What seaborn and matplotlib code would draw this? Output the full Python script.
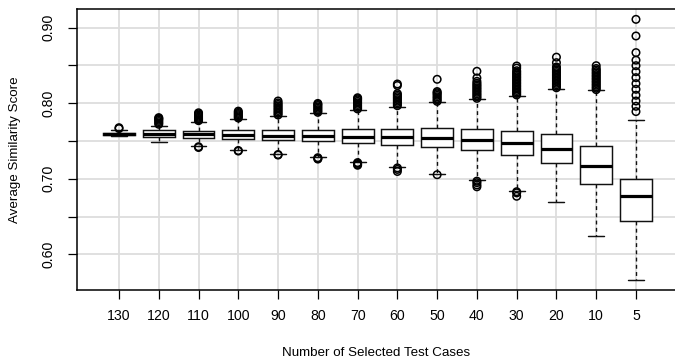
import numpy as np
import pandas as pd
import matplotlib
matplotlib.use("Agg")
import matplotlib.pyplot as plt
from matplotlib.markers import MarkerStyle
import seaborn as sns

# ---- data ----
labels = ["130", "120", "110", "100", "90", "80", "70", "60", "50", "40", "30", "20", "10", "5"]
whisker_low = [0.7565, 0.7492, 0.7435, 0.7385, 0.7330, 0.7290, 0.7224, 0.7157, 0.7065, 0.6985, 0.6844, 0.6694, 0.6245, 0.5667]
q1 = [0.7578, 0.7558, 0.7545, 0.7528, 0.7510, 0.7497, 0.7475, 0.7452, 0.7418, 0.7382, 0.7316, 0.7206, 0.6937, 0.6443]
median = [0.7592, 0.7594, 0.7590, 0.7585, 0.7570, 0.7570, 0.7558, 0.7550, 0.7540, 0.7515, 0.7475, 0.7395, 0.7170, 0.6774]
q3 = [0.7605, 0.7640, 0.7638, 0.7643, 0.7647, 0.7647, 0.7656, 0.7660, 0.7670, 0.7660, 0.7638, 0.7600, 0.7435, 0.7000]
whisker_high = [0.7645, 0.7700, 0.7757, 0.7790, 0.7830, 0.7868, 0.7911, 0.7955, 0.8013, 0.8057, 0.8100, 0.8195, 0.8170, 0.7780]

outliers_high = {
    "130": [0.7665, 0.7677],
    "120": [0.7722, 0.7740, 0.7758, 0.7775, 0.7790, 0.7800, 0.7810],
    "110": [0.7770, 0.7785, 0.7800, 0.7815, 0.7830, 0.7845, 0.7860, 0.7874],
    "100": [0.7805, 0.7820, 0.7835, 0.7850, 0.7865, 0.7880, 0.7896],
    "90": [0.7845, 0.7865, 0.7885, 0.7905, 0.7925, 0.7945, 0.7965, 0.7985, 0.8005, 0.8030],
    "80": [0.7880, 0.7898, 0.7916, 0.7934, 0.7952, 0.7970, 0.7985, 0.7998],
    "70": [0.7925, 0.7945, 0.7965, 0.7985, 0.8005, 0.8025, 0.8045, 0.8060, 0.8073],
    "60": [0.7968, 0.7988, 0.8008, 0.8028, 0.8048, 0.8068, 0.8088, 0.8108, 0.8128, 0.8235, 0.8255],
    "50": [0.8025, 0.8045, 0.8065, 0.8085, 0.8105, 0.8125, 0.8140, 0.8155, 0.8317],
    "40": [0.8065, 0.8085, 0.8105, 0.8125, 0.8145, 0.8165, 0.8185, 0.8205, 0.8225, 0.8245, 0.8265, 0.8290, 0.8335, 0.8423],
    "30": [0.8110, 0.8130, 0.8150, 0.8170, 0.8190, 0.8210, 0.8230, 0.8250, 0.8270, 0.8290, 0.8310, 0.8330, 0.8350, 0.8370, 0.8390, 0.8410, 0.8430, 0.8465, 0.8493],
    "20": [0.8205, 0.8225, 0.8245, 0.8265, 0.8285, 0.8305, 0.8325, 0.8345, 0.8365, 0.8385, 0.8405, 0.8425, 0.8445, 0.8465, 0.8480, 0.8537, 0.8610],
    "10": [0.8180, 0.8200, 0.8220, 0.8240, 0.8260, 0.8280, 0.8300, 0.8320, 0.8340, 0.8360, 0.8380, 0.8400, 0.8420, 0.8440, 0.8460, 0.8497],
    "5": [0.7890, 0.7960, 0.8030, 0.8106, 0.8185, 0.8260, 0.8339, 0.8418, 0.8497, 0.8570, 0.8670, 0.8890, 0.9110],
}
outliers_low = {
    "110": [0.7425, 0.7415],
    "100": [0.7375, 0.7368],
    "90": [0.7322, 0.7315],
    "80": [0.7280, 0.7270, 0.7262],
    "70": [0.7215, 0.7205, 0.7190, 0.7180],
    "60": [0.7145, 0.7125, 0.7098],
    "50": [0.7055],
    "40": [0.6970, 0.6950, 0.6920, 0.6895],
    "30": [0.6830, 0.6815, 0.6770],
}

y_ticks = [0.60, 0.65, 0.70, 0.75, 0.80, 0.85, 0.90]
y_ticklabels = ["0.60", "", "0.70", "", "0.80", "", "0.90"]

# ---- build tables ----
box_rows = []
for lab, lo, a, m, b, hi in zip(labels, whisker_low, q1, median, q3, whisker_high):
    for v in (lo, a, m, b, hi):
        box_rows.append((lab, v))
box_df = pd.DataFrame(box_rows, columns=["n", "score"])

out_rows = []
for d in (outliers_high, outliers_low):
    for lab, vals in d.items():
        for v in vals:
            out_rows.append((lab, v))
out_df = pd.DataFrame(out_rows, columns=["n", "score"])

# ---- plot ----
sns.set_style("white")
plt.rcParams["font.family"] = ["Liberation Sans", "DejaVu Sans"]

W, H = 675, 364
fig = plt.figure(figsize=(W / 100, H / 100), dpi=100)
L, R, T, B = 77, 700, 9, 290
ax = fig.add_axes([L / W, 1 - B / H, (R - L) / W, (B - T) / H])

sns.boxplot(
    data=box_df, x="n", y="score", order=labels,
    whis=(0, 100), width=0.8, showfliers=False,
    color="white", linecolor="#111111", linewidth=1.05,
    medianprops=dict(linewidth=2.3, color="black"),
    whiskerprops=dict(linestyle=(0, (2.8, 2.4)), linewidth=1.0),
    capprops=dict(linewidth=1.05),
    ax=ax, zorder=3,
)

sns.stripplot(
    data=out_df, x="n", y="score", order=labels, jitter=False,
    marker=MarkerStyle("o", fillstyle="none"), color="black",
    size=5.4, linewidth=1.1, ax=ax, zorder=4,
)

ax.set_xlim(-1.056, 14.61)
ax.set_ylim(0.553, 0.9247)
ax.set_yticks(y_ticks)
ax.set_yticklabels(y_ticklabels, rotation=90, va="center")

ax.set_axisbelow(True)
ax.grid(True, color="#dddddd", linewidth=1.3)
ax.xaxis.grid(True, color="#dddddd", linewidth=1.3)

for s in ["top", "left", "bottom"]:
    ax.spines[s].set_visible(True)
    ax.spines[s].set_color("black")
    ax.spines[s].set_linewidth(1.1)
ax.spines["right"].set_visible(False)

ax.tick_params(axis="both", direction="out", length=6.5, width=0.9, color="black",
               labelsize=10.2, labelcolor="black")
ax.tick_params(axis="x", pad=7.5)
ax.tick_params(axis="y", pad=9)
ax.tick_params(left=True, bottom=True, right=False, top=False)

ax.set_xlabel("Number of Selected Test Cases", fontsize=9.6, color="black")
ax.set_ylabel("Average Similarity Score", fontsize=9.6, color="black")
ax.xaxis.label.set_va("center")
ax.xaxis.set_label_coords((376 - L) / (R - L), -(353 - B) / (B - T))
ax.yaxis.label.set_va("center")
ax.yaxis.set_label_coords(-(L - 15) / (R - L), 0.5)

fig.savefig("out.png", dpi=100)
